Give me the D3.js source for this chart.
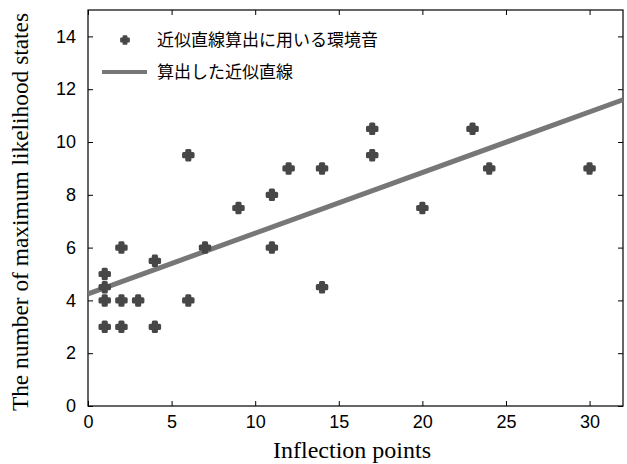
<!DOCTYPE html>
<html><head><meta charset="utf-8">
<script src="https://cdn.jsdelivr.net/npm/d3@7"></script>
<style>body{margin:0;background:#fff}</style>
</head><body>
<svg id="c" width="627" height="464"></svg>
<script>
const pointsX = [1,1,1,1,2,2,2,3,4,4,6,6,7,9,11,11,12,14,14,17,17,20,23,24,30];
const pointsY = [3,4,4.5,5,3,4,6,4,3,5.5,4,9.5,6,7.5,6,8,9,4.5,9,9.5,10.5,7.5,10.5,9,9];
const fitX = [0,32];
const fitY = [4.25,11.6];
const xTicks = [0,5,10,15,20,25,30];
const yTicks = [0,2,4,6,8,10,12,14];
const legendLabels = ["近似直線算出に用いる環境音","算出した近似直線"];
const xTitle = "Inflection points";
const yTitle = "The number of maximum likelihood states";

const svg = d3.select("#c");
const L=88,R=623,T=10,B=406;
const x = d3.scaleLinear().domain([0,32]).range([L,R]);
const y = d3.scaleLinear().domain([0,15]).range([B,T]);

const tickFont = "'Liberation Sans', Arial, sans-serif";
const gx = svg.append("g").attr("transform",`translate(0,${B})`)
  .call(d3.axisBottom(x).tickValues(xTicks).tickSize(-5).tickPadding(9).tickSizeOuter(0));
const gxTop = svg.append("g").attr("transform",`translate(0,${T})`)
  .call(d3.axisTop(x).tickValues(xTicks).tickSize(-5).tickFormat("").tickSizeOuter(0));
const gy = svg.append("g").attr("transform",`translate(${L},0)`)
  .call(d3.axisLeft(y).tickValues(yTicks).tickSize(-5).tickPadding(12).tickSizeOuter(0));
const gyR = svg.append("g").attr("transform",`translate(${R},0)`)
  .call(d3.axisRight(y).tickValues(yTicks).tickSize(-5).tickFormat("").tickSizeOuter(0));
[gx,gxTop,gy,gyR].forEach(g=>{
  g.select(".domain").remove();
  g.selectAll("line").attr("stroke","#000").attr("stroke-width",1);
  g.selectAll("text").attr("font-family",tickFont).attr("font-size",18).attr("fill","#000");
});
svg.append("rect").attr("x",L).attr("y",T).attr("width",R-L).attr("height",B-T)
  .attr("fill","none").attr("stroke","#000").attr("stroke-width",1.2);

svg.append("line").attr("x1",x(fitX[0])).attr("y1",y(fitY[0]))
  .attr("x2",x(fitX[1])).attr("y2",y(fitY[1]))
  .attr("stroke","#777").attr("stroke-width",5);

const sym = d3.symbol().type(d3.symbolCross).size(50);
svg.append("g").selectAll("path").data(pointsX.map((v,i)=>[v,pointsY[i]])).join("path")
  .attr("d",sym).attr("transform",d=>`translate(${x(d[0])},${y(d[1])})`)
  .attr("fill","#474747").attr("stroke","#474747").attr("stroke-width",3).attr("stroke-linejoin","round");

const lg = svg.append("g");
lg.append("path").attr("d",d3.symbol().type(d3.symbolCross).size(30)())
  .attr("transform","translate(125,40)").attr("fill","#474747").attr("stroke","#474747").attr("stroke-width",2.4).attr("stroke-linejoin","round");
lg.append("line").attr("x1",102).attr("x2",147).attr("y1",72).attr("y2",72)
  .attr("stroke","#777").attr("stroke-width",4);
lg.selectAll("text").data(legendLabels).join("text")
  .attr("x",157).attr("y",(d,i)=>40+i*32).attr("dy","0.35em")
  .attr("font-family","'Noto Sans CJK JP', sans-serif").attr("font-size",17).attr("fill","#000")
  .text(d=>d);

svg.append("text").attr("x",352).attr("y",458).attr("text-anchor","middle").attr("fill","#000")
  .attr("font-family","'Liberation Serif', 'Times New Roman', serif").attr("font-size",24).text(xTitle);
svg.append("text").attr("transform",`translate(28,212) rotate(-90)`).attr("text-anchor","middle").attr("fill","#000")
  .attr("font-family","'Liberation Serif', 'Times New Roman', serif").attr("font-size",23.4).text(yTitle);
</script>
</body></html>
